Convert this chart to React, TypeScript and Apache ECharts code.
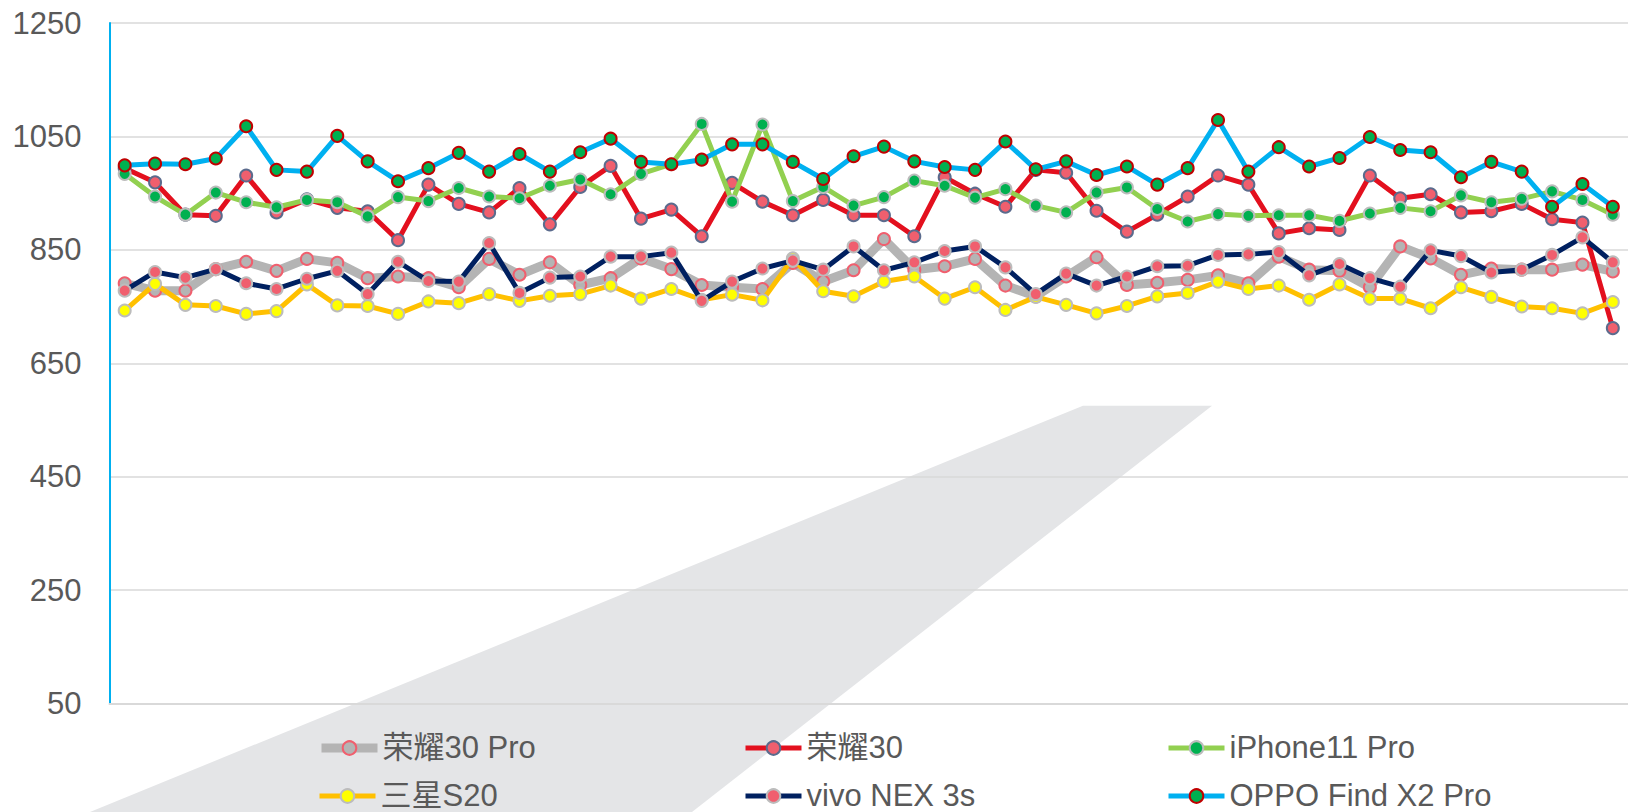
import React, { useEffect, useRef } from "react";
import * as echarts from "echarts";

const categories = [
  "1","2","3","4","5","6","7","8","9","10",
  "11","12","13","14","15","16","17","18","19","20",
  "21","22","23","24","25","26","27","28","29","30",
  "31","32","33","34","35","36","37","38","39","40",
  "41","42","43","44","45","46","47","48","49","50",
];

const seriesNames = ["荣耀30 Pro", "荣耀30", "iPhone11 Pro", "三星S20", "vivo NEX 3s", "OPPO Find X2 Pro"];

const honor30Pro = [
  791, 778, 778, 816, 829, 813, 834, 827, 800, 803,
  800, 784, 834, 806, 828, 788, 800, 835, 816, 788,
  784, 781, 827, 794, 814, 869, 815, 821, 834, 787,
  768, 803, 837, 788, 792, 797, 805, 791, 838, 815,
  813, 784, 856, 835, 806, 817, 815, 815, 824, 812,
];
const honor30 = [
  994, 969, 912, 910, 981, 916, 939, 924, 918, 867,
  965, 931, 916, 959, 895, 961, 998, 905, 921, 874,
  968, 935, 911, 938, 911, 911, 874, 978, 949, 926,
  991, 986, 919, 882, 912, 944, 981, 965, 879, 888,
  885, 981, 941, 948, 916, 918, 931, 904, 898, 712,
];
const iphone11Pro = [
  984, 944, 912, 951, 934, 925, 938, 934, 909, 943,
  936, 959, 944, 941, 963, 974, 948, 984, 1001, 1072,
  935, 1071, 936, 961, 928, 943, 972, 963, 942, 957,
  928, 916, 951, 960, 922, 900, 913, 910, 911, 911,
  901, 914, 924, 918, 946, 934, 940, 953, 938, 912,
];
const samsungS20 = [
  743, 790, 753, 751, 737, 742, 789, 752, 751, 737,
  759, 756, 772, 760, 769, 772, 787, 764, 781, 762,
  771, 761, 835, 777, 768, 794, 803, 764, 784, 744,
  767, 753, 738, 751, 768, 774, 794, 781, 787, 762,
  789, 764, 764, 747, 784, 767, 750, 747, 738, 758,
];
const vivoNex3s = [
  778, 811, 801, 816, 791, 781, 799, 813, 772, 829,
  795, 794, 862, 774, 801, 803, 838, 838, 845, 760,
  794, 817, 831, 815, 856, 814, 828, 848, 856, 819,
  772, 808, 787, 803, 821, 822, 841, 842, 846, 805,
  825, 800, 785, 849, 839, 810, 815, 841, 872, 828,
];
const oppoFindX2Pro = [
  999, 1002, 1001, 1011, 1068, 991, 988, 1051, 1006, 971,
  994, 1021, 988, 1019, 988, 1022, 1046, 1005, 1001, 1009,
  1036, 1036, 1005, 975, 1015, 1032, 1006, 996, 991, 1041,
  992, 1006, 982, 997, 965, 994, 1079, 988, 1031, 997,
  1012, 1049, 1026, 1022, 978, 1005, 988, 926, 966, 926,
];

const yTicks = { min: 50, max: 1250, interval: 200 };

const FONT = "'Liberation Sans', Arial, 'Noto Sans CJK SC', sans-serif";
const TEXT_COLOR = "#595959";
const PINK = "#f05f6e";
const GRAYB = "#bcbcbc";

export default function App() {
  const ref = useRef<HTMLDivElement>(null);
  useEffect(() => {
    if (!ref.current) return;
    const chart = echarts.init(ref.current, null, { renderer: "svg" });

    const styles = [
      { line: "#b4b4b4", width: 9, fill: "#b4b4b4", border: PINK },
      { line: "#e3101e", width: 5, fill: PINK, border: "#5b6b8d" },
      { line: "#92d050", width: 5, fill: "#00b050", border: GRAYB },
      { line: "#ffc000", width: 5, fill: "#ffff00", border: GRAYB },
      { line: "#002060", width: 5, fill: PINK, border: GRAYB },
      { line: "#00b0f0", width: 5, fill: "#00b050", border: "#c00000" },
    ];
    const data = [honor30Pro, honor30, iphone11Pro, samsungS20, vivoNex3s, oppoFindX2Pro];

    const legendPos = [
      { left: 317, top: 732.5 },
      { left: 743, top: 732.5 },
      { left: 1166, top: 732.5 },
      { left: 317, top: 780.5 },
      { left: 743, top: 780.5 },
      { left: 1166, top: 780.5 },
    ];

    chart.setOption({
      animation: false,
      textStyle: { fontFamily: FONT },
      grid: { left: 109.5, right: -4, top: 23, bottom: 108.5, containLabel: false },
      xAxis: {
        type: "category",
        data: categories,
        boundaryGap: true,
        axisLine: { show: true, lineStyle: { color: "#d9d9d9", width: 2 } },
        axisTick: { show: false },
        axisLabel: { show: false },
        splitLine: { show: false },
      },
      yAxis: {
        type: "value",
        min: yTicks.min,
        max: yTicks.max,
        interval: yTicks.interval,
        axisLine: { show: true, lineStyle: { color: "#00b0f0", width: 2 } },
        axisTick: { show: false },
        axisLabel: {
          color: TEXT_COLOR,
          fontSize: 31,
          margin: 28,
          fontFamily: FONT,
          formatter: (v: number) => String(v),
        },
        splitLine: { show: true, lineStyle: { color: "#d9d9d9", width: 1.5 } },
      },
      legend: seriesNames.map((n, i) => ({
        data: [n],
        left: legendPos[i].left,
        top: legendPos[i].top,
        padding: 0,
        itemWidth: 56,
        itemHeight: 17,
        itemGap: 5,
        lineStyle: { width: styles[i].width, color: styles[i].line },
        itemStyle: { color: styles[i].fill, borderColor: styles[i].border, borderWidth: 2 },
        textStyle: { color: TEXT_COLOR, fontSize: 31, fontFamily: FONT },
      })),
      graphic: [
        {
          type: "polygon",
          z: -10,
          silent: true,
          shape: { points: [[1083, 405.7], [1212, 405.7], [692, 812], [90, 812]] },
          style: { fill: "#e4e5e7" },
        },
      ],
      series: seriesNames.map((n, i) => ({
        name: n,
        type: "line",
        data: data[i],
        symbol: "circle",
        symbolSize: 12,
        lineStyle: { color: styles[i].line, width: styles[i].width },
        itemStyle: { color: styles[i].fill, borderColor: styles[i].border, borderWidth: 2 },
        emphasis: { disabled: true },
        z: 2 + i,
      })),
    });
    return () => chart.dispose();
  }, []);
  return (
    <div
      ref={ref}
      style={{ position: "absolute", left: 0, top: 0, width: 1628, height: 812 }}
    />
  );
}
